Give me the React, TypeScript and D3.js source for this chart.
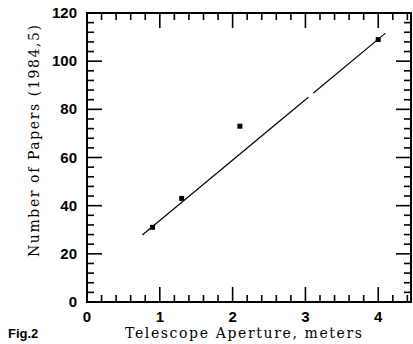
import React from "react";
import * as d3 from "d3";

const apertures = [0.9, 1.3, 2.1, 4.0];
const papers = [31, 43, 73, 109];
const fitSegmentsX = [[0.76, 3.04], [3.11, 4.1]];
const fitSlope = 25.1;
const fitAt076 = 27.8;
const xTickLabels = [0, 1, 2, 3, 4];
const yTickLabels = [0, 20, 40, 60, 80, 100, 120];
const xTitle = "Telescope Aperture, meters";
const yTitle = "Number of Papers (1984,5)";
const figLabel = "Fig.2";

const W = 413, H = 344;
const L = 87, R = 411, T = 13, B = 302;

export default function App() {
  const x = d3.scaleLinear().domain([0, 4.45]).range([L, R]);
  const y = d3.scaleLinear().domain([0, 120]).range([B, T]);
  const fit = (v: number) => fitAt076 + fitSlope * (v - 0.76);
  const line = d3.line<number>().x((d) => x(d)).y((d) => y(fit(d)));

  const xMinor = d3.range(0, 4.45, 0.2).map((v) => +v.toFixed(2));
  const yMinor = d3.range(0, 121, 4);
  const isMajorX = (v: number) => Math.abs(v - Math.round(v)) < 1e-6;
  const isMajorY = (v: number) => v % 20 === 0;
  const MAJ = 15, MIN = 7;
  const sw = 1.6;

  return (
    <svg width={W} height={H} style={{ position: "absolute", left: 0, top: 0, background: "#fff" }}>
      <rect x={L} y={T} width={R - L} height={B - T} fill="none" stroke="#000" strokeWidth={2} />
      {xMinor.map((v) => {
        const len = isMajorX(v) ? MAJ : MIN;
        return (
          <g key={"xt" + v}>
            <line x1={x(v)} x2={x(v)} y1={B} y2={B - len} stroke="#000" strokeWidth={sw} />
            <line x1={x(v)} x2={x(v)} y1={T} y2={T + len} stroke="#000" strokeWidth={sw} />
          </g>
        );
      })}
      {yMinor.map((v) => {
        const len = isMajorY(v) ? MAJ : MIN;
        return (
          <g key={"yt" + v}>
            <line x1={L} x2={L + len} y1={y(v)} y2={y(v)} stroke="#000" strokeWidth={sw} />
            <line x1={R} x2={R - len} y1={y(v)} y2={y(v)} stroke="#000" strokeWidth={sw} />
          </g>
        );
      })}
      {yTickLabels.map((v) => (
        <text key={"yl" + v} x={77} y={y(v) + 5} textAnchor="end"
          fontFamily="Liberation Sans, Arial, sans-serif" fontWeight="bold" fontSize={15} fill="#000">
          {v}
        </text>
      ))}
      {xTickLabels.map((v) => (
        <text key={"xl" + v} x={x(v)} y={322} textAnchor="middle"
          fontFamily="Liberation Sans, Arial, sans-serif" fontWeight="bold" fontSize={15} fill="#000">
          {v}
        </text>
      ))}
      <text x={243.5} y={338} textAnchor="middle" fontFamily="DejaVu Serif, serif" fontSize={14}
        textLength={237} lengthAdjust="spacing" fill="#000">
        {xTitle}
      </text>
      <text transform={`translate(39,141) rotate(-90)`} textAnchor="middle" fontFamily="DejaVu Serif, serif"
        fontSize={14} textLength={232} lengthAdjust="spacing" fill="#000">
        {yTitle}
      </text>
      <text x={8} y={338} fontFamily="Liberation Sans, Arial, sans-serif" fontWeight="bold" fontSize={13} fill="#000">
        {figLabel}
      </text>
      {fitSegmentsX.map((seg, i) => (
        <path key={"f" + i} d={line(seg) || ""} fill="none" stroke="#000" strokeWidth={1.2} />
      ))}
      {apertures.map((a, i) => (
        <rect key={"p" + i} x={x(a) - 2.5} y={y(papers[i]) - 2.5} width={5} height={5} fill="#000" />
      ))}
    </svg>
  );
}
